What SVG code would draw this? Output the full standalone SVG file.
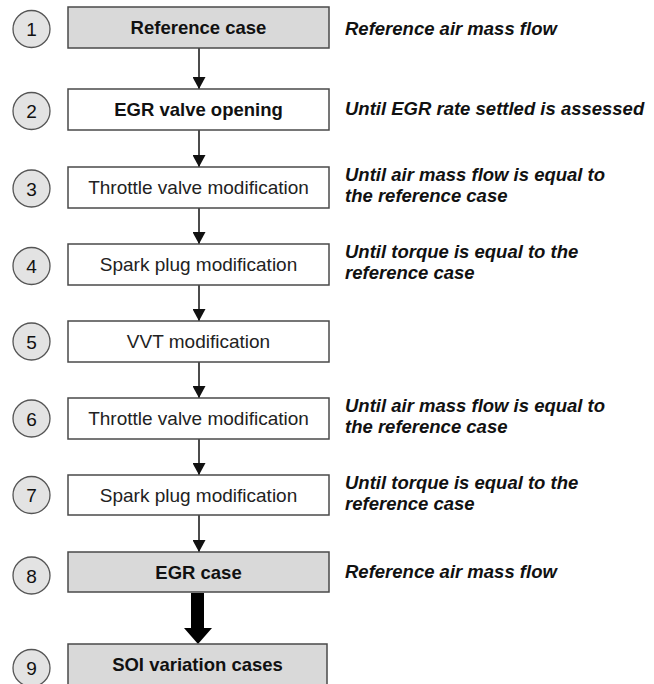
<svg xmlns="http://www.w3.org/2000/svg" width="654" height="684" viewBox="0 0 654 684">
<style>
.box{stroke:#4a4a4a;stroke-width:1.5}
.gray{fill:#d9d9d9}
.white{fill:#ffffff}
.num{fill:#e3e3e3;stroke:#555;stroke-width:1.3}
.numt{font-family:"Liberation Sans",Arial,sans-serif;font-size:19px;fill:#111;text-anchor:middle}
.bt{font-family:"Liberation Sans",Arial,sans-serif;font-size:18.5px;font-weight:bold;fill:#111;text-anchor:middle}
.rt{font-family:"Liberation Sans",Arial,sans-serif;font-size:19px;fill:#222;text-anchor:middle}
.note{font-family:"Liberation Sans",Arial,sans-serif;font-size:18.5px;font-weight:bold;font-style:italic;fill:#111}
.conn{stroke:#111;stroke-width:1.5;fill:none}
</style>
<defs>
<marker id="ah" viewBox="0 0 12 13" refX="12" refY="6.5" markerWidth="12" markerHeight="13" markerUnits="userSpaceOnUse" orient="auto">
<path d="M0,0 L12,6.5 L0,13 Z" fill="#111"/>
</marker>
</defs>
<rect width="654" height="684" fill="#ffffff"/>

<g id="connectors">
<line class="conn" x1="199" y1="48" x2="199" y2="89" marker-end="url(#ah)"/>
<line class="conn" x1="199" y1="130" x2="199" y2="167" marker-end="url(#ah)"/>
<line class="conn" x1="199" y1="208" x2="199" y2="244" marker-end="url(#ah)"/>
<line class="conn" x1="199" y1="285" x2="199" y2="321" marker-end="url(#ah)"/>
<line class="conn" x1="199" y1="362" x2="199" y2="398" marker-end="url(#ah)"/>
<line class="conn" x1="199" y1="439" x2="199" y2="475" marker-end="url(#ah)"/>
<line class="conn" x1="199" y1="515" x2="199" y2="552" marker-end="url(#ah)"/>
<path d="M191,593 L204,593 L204,628 L212,628 L198,644 L184,628 L191,628 Z" fill="#000"/>
</g>

<g id="node1">
<rect class="box gray" x="68" y="7" width="261" height="41"/>
<text class="bt" x="198.5" y="34">Reference case</text>
<circle class="num" cx="31.5" cy="29" r="18.5"/>
<text class="numt" x="31.5" y="36">1</text>
<text class="note" x="345" y="35">Reference air mass flow</text>
</g>

<g id="node2">
<rect class="box white" x="68" y="89" width="261" height="41"/>
<text class="bt" x="198.5" y="116">EGR valve opening</text>
<circle class="num" cx="31.5" cy="111" r="18.5"/>
<text class="numt" x="31.5" y="118">2</text>
<text class="note" x="345" y="115">Until EGR rate settled is assessed</text>
</g>

<g id="node3">
<rect class="box white" x="68" y="167" width="261" height="41"/>
<text class="rt" x="198.5" y="194">Throttle valve modification</text>
<circle class="num" cx="31.5" cy="188.5" r="18.5"/>
<text class="numt" x="31.5" y="195.5">3</text>
<text class="note" x="345" y="181">Until air mass flow is equal to</text>
<text class="note" x="345" y="202">the reference case</text>
</g>

<g id="node4">
<rect class="box white" x="68" y="244" width="261" height="41"/>
<text class="rt" x="198.5" y="271">Spark plug modification</text>
<circle class="num" cx="31.5" cy="266" r="18.5"/>
<text class="numt" x="31.5" y="273">4</text>
<text class="note" x="345" y="258">Until torque is equal to the</text>
<text class="note" x="345" y="279">reference case</text>
</g>

<g id="node5">
<rect class="box white" x="68" y="321" width="261" height="41"/>
<text class="rt" x="198.5" y="348">VVT modification</text>
<circle class="num" cx="31.5" cy="341.5" r="18.5"/>
<text class="numt" x="31.5" y="348.5">5</text>
</g>

<g id="node6">
<rect class="box white" x="68" y="398" width="261" height="41"/>
<text class="rt" x="198.5" y="425">Throttle valve modification</text>
<circle class="num" cx="31.5" cy="418.5" r="18.5"/>
<text class="numt" x="31.5" y="425.5">6</text>
<text class="note" x="345" y="412">Until air mass flow is equal to</text>
<text class="note" x="345" y="433">the reference case</text>
</g>

<g id="node7">
<rect class="box white" x="68" y="475" width="261" height="40"/>
<text class="rt" x="198.5" y="501.5">Spark plug modification</text>
<circle class="num" cx="31.5" cy="495" r="18.5"/>
<text class="numt" x="31.5" y="502">7</text>
<text class="note" x="345" y="489">Until torque is equal to the</text>
<text class="note" x="345" y="510">reference case</text>
</g>

<g id="node8">
<rect class="box gray" x="68" y="552" width="261" height="40"/>
<text class="bt" x="198.5" y="578.5">EGR case</text>
<circle class="num" cx="31.5" cy="575.5" r="18.5"/>
<text class="numt" x="31.5" y="582.5">8</text>
<text class="note" x="345" y="578">Reference air mass flow</text>
</g>

<g id="node9">
<rect class="box gray" x="68" y="644" width="259" height="50"/>
<text class="bt" x="197.5" y="671">SOI variation cases</text>
<circle class="num" cx="31.5" cy="668" r="18.5"/>
<text class="numt" x="31.5" y="675">9</text>
</g>
</svg>
